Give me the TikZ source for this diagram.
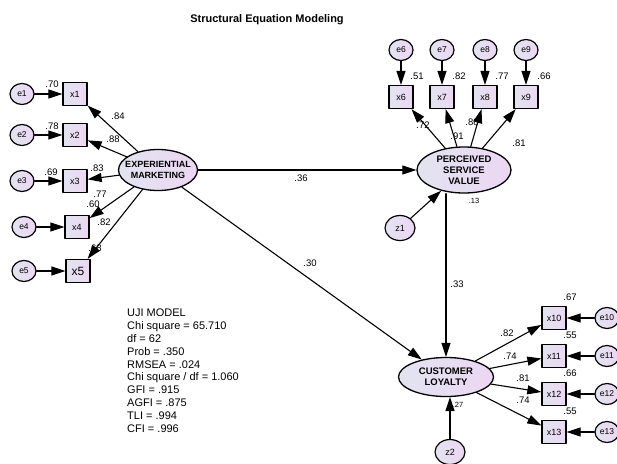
\documentclass[tikz,border=0pt]{standalone}
\usepackage{fontspec}
\setmainfont{Liberation Sans}
\usetikzlibrary{shapes.geometric,arrows.meta}

\definecolor{semL}{RGB}{226,228,240}
\definecolor{semR}{RGB}{237,214,243}

\begin{document}
\begin{tikzpicture}[x=1pt, y=-1pt, line cap=round, line join=round,
  latent/.style={ellipse, draw, line width=1.3pt, inner sep=0pt, left color=semL, right color=semR,
    align=center, font=\bfseries\fontsize{9.5}{11}\selectfont},
  errvar/.style={ellipse, draw, line width=1.2pt, minimum width=24pt, minimum height=21pt, inner sep=0pt,
    left color=semL, right color=semR, font=\fontsize{8.5}{9}\selectfont},
  distvar/.style={errvar, minimum width=30pt, minimum height=25pt, font=\fontsize{9}{9}\selectfont},
  obsbox/.style={rectangle, draw, line width=1.3pt, minimum width=24pt, minimum height=23pt, inner sep=0pt,
    left color=semL, right color=semR, font=\fontsize{9}{9}\selectfont},
  semarrow/.style={-{Triangle[length=14pt,width=9pt]}, line width=1.1pt},
  coef/.style={inner sep=0pt, font=\fontsize{9.5}{9.5}\selectfont},
  smc/.style={inner sep=0pt, font=\fontsize{7.5}{7.5}\selectfont}]

  %% ════ 标题 ════
  \node[font=\bfseries\fontsize{11}{11}\selectfont] (title) at (267,20) {Structural Equation Modeling};

  %% ════ 潜变量 ════
  %% ⚠ EM 文字较宽，inner xsep 取负值把椭圆压回原宽度
  \node[latent, font=\bfseries\fontsize{9}{11}\selectfont, inner xsep=-6pt, minimum width=79pt, minimum height=41pt] (EM) at (158,170) {EXPERIENTIAL\\MARKETING};
  \node[latent, minimum width=94pt, minimum height=46pt] (PSV) at (464,170) {PERCEIVED\\SERVICE\\VALUE};
  \node[latent, minimum width=95pt, minimum height=39pt] (CL)  at (446,377) {CUSTOMER\\LOYALTY};

  %% ════ 左侧指标 x1--x5 与误差 e1--e5 ════
  \node[obsbox] (x1) at (75,94)  {x1};
  \node[obsbox] (x2) at (75,135) {x2};
  \node[obsbox] (x3) at (75,181) {x3};
  \node[obsbox] (x4) at (77,227) {x4};
  \node[obsbox, font=\fontsize{12}{12}\selectfont] (x5) at (78,271) {x5};
  \node[errvar] (e1) at (22,94)  {e1};
  \node[errvar] (e2) at (22,135) {e2};
  \node[errvar] (e3) at (22,181) {e3};
  \node[errvar] (e4) at (24,227) {e4};
  \node[errvar] (e5) at (24,271) {e5};

  %% ════ 上方指标 x6--x9 ════
  \node[obsbox] (x6) at (401,97) {x6};
  \node[obsbox] (x7) at (442,97) {x7};
  \node[obsbox] (x8) at (485,97) {x8};
  \node[obsbox] (x9) at (526,97) {x9};
  \node[errvar] (e6) at (401,50) {e6};
  \node[errvar] (e7) at (442,50) {e7};
  \node[errvar] (e8) at (485,50) {e8};
  \node[errvar] (e9) at (526,50) {e9};

  %% ════ 右下指标 x10--x13 ════
  \node[obsbox] (x10) at (554,318) {x10};
  \node[obsbox] (x11) at (554,356) {x11};
  \node[obsbox] (x12) at (554,394) {x12};
  \node[obsbox] (x13) at (554,432) {x13};
  \node[errvar] (e10) at (607,318) {e10};
  \node[errvar] (e11) at (607,356) {e11};
  \node[errvar] (e12) at (607,394) {e12};
  \node[errvar] (e13) at (607,432) {e13};

  %% ════ 扰动项 ════
  \node[distvar] (z1) at (400,228) {z1};
  \node[distvar] (z2) at (450,452) {z2};

  %% ════ 箭头 ════
  \draw[semarrow] (e1) -- (x1);
  \draw[semarrow] (e2) -- (x2);
  \draw[semarrow] (e3) -- (x3);
  \draw[semarrow] (e4) -- (x4);
  \draw[semarrow] (e5) -- (x5);
  \draw[semarrow] (EM) -- (x1);
  \draw[semarrow] (EM) -- (x2);
  \draw[semarrow] (EM) -- (x3);
  \draw[semarrow] (EM) -- (x4);
  \draw[semarrow] (EM) -- (x5);

  \draw[semarrow] (e6) -- (x6);
  \draw[semarrow] (e7) -- (x7);
  \draw[semarrow] (e8) -- (x8);
  \draw[semarrow] (e9) -- (x9);
  \draw[semarrow] (PSV) -- (x6);
  \draw[semarrow] (PSV) -- (x7);
  \draw[semarrow] (PSV) -- (x8);
  \draw[semarrow] (PSV) -- (x9);

  \draw[semarrow] (e10) -- (x10);
  \draw[semarrow] (e11) -- (x11);
  \draw[semarrow] (e12) -- (x12);
  \draw[semarrow] (e13) -- (x13);
  \draw[semarrow] (CL) -- (x10);
  \draw[semarrow] (CL) -- (x11);
  \draw[semarrow] (CL) -- (x12);
  \draw[semarrow] (CL) -- (x13);

  % 结构路径
  \draw[semarrow] (EM) -- (PSV);
  \draw[semarrow] (EM) -- (CL);
  \draw[semarrow] (CL.north |- PSV.south) -- (CL.north);
  \draw[semarrow] (z1) -- (PSV);
  \draw[semarrow] (z2.north) -- (z2.north |- CL.south);

  %% ════ 系数标签 ════
  \node[coef] (r1) at (52,84)   {.70};
  \node[coef] (r2) at (52,126)  {.78};
  \node[coef] (r3) at (51,172)  {.69};
  \node[coef] (r4) at (93,204)  {.60};
  \node[coef] (r5) at (95,248)  {.68};
  \node[coef] (w1) at (118,116) {.84};
  \node[coef] (w2) at (113,139) {.88};
  \node[coef] (w3) at (97,168)  {.83};
  \node[coef] (w4) at (100,194) {.77};
  \node[coef] (w5) at (104,222) {.82};

  \node[coef] (r6) at (417,76)  {.51};
  \node[coef] (r7) at (459,76)  {.82};
  \node[coef] (r8) at (502,76)  {.77};
  \node[coef] (r9) at (544,76)  {.66};
  \node[coef] (w6) at (423,125) {.72};
  \node[coef] (w7) at (457,136) {.91};
  \node[coef] (w8) at (472,122) {.88};
  \node[coef] (w9) at (519,143) {.81};

  \node[coef] (r10) at (570,297) {.67};
  \node[coef] (r11) at (570,335) {.55};
  \node[coef] (r12) at (570,373) {.66};
  \node[coef] (r13) at (570,411) {.55};
  \node[coef] (w10) at (507,333) {.82};
  \node[coef] (w11) at (510,356) {.74};
  \node[coef] (w12) at (523,378) {.81};
  \node[coef] (w13) at (523,400) {.74};

  \node[coef] (b1) at (301,178) {.36};
  \node[coef] (b2) at (310,263) {.30};
  \node[coef] (b3) at (457,284) {.33};
  \node[smc] (s1) at (474,201) {.13};
  \node[smc] (s2) at (458,405) {.27};

  %% ════ 拟合指标 ════
  \node[anchor=north west, align=left, inner sep=0pt, font=\fontsize{11}{12.8}\selectfont] (fit) at (127,309)
    {UJI MODEL\\Chi square = 65.710\\df = 62\\Prob = .350\\RMSEA = .024\\Chi square / df = 1.060\\GFI = .915\\AGFI = .875\\TLI = .994\\CFI = .996};

  % 钉死画布
  \pgfresetboundingbox
  \path[use as bounding box] (0,0) rectangle (617,463);
\end{tikzpicture}
\end{document}
